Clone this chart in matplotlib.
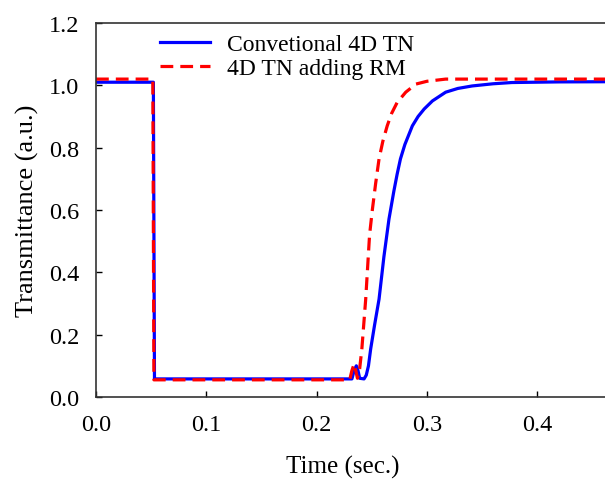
import matplotlib.pyplot as plt

plt.rcParams['font.family'] = ['Liberation Serif', 'DejaVu Serif']

# 常规 4D TN
t_conv = [0, 0.052, 0.053, 0.232, 0.234, 0.236, 0.2375, 0.239, 0.243, 0.245,
          0.247, 0.249, 0.2525, 0.2566, 0.261, 0.2656, 0.270, 0.273, 0.276, 0.280,
          0.2868, 0.292, 0.2975, 0.305, 0.317, 0.328, 0.341, 0.36, 0.377, 0.42, 0.5]
v_conv = [1.01, 1.01, 0.058, 0.058, 0.085, 0.10, 0.085, 0.06, 0.058, 0.07,
          0.10, 0.154, 0.23, 0.314, 0.45, 0.571, 0.66, 0.715, 0.764, 0.81,
          0.870, 0.90, 0.924, 0.950, 0.978, 0.990, 0.998, 1.005, 1.009, 1.011, 1.012]

# 4D TN 加 RM
t_rm = [0, 0.0515, 0.0525, 0.230, 0.232, 0.234, 0.2355, 0.237, 0.239, 0.241,
        0.2445, 0.248, 0.2505, 0.2535, 0.2566, 0.260, 0.264, 0.268, 0.273, 0.2808,
        0.290, 0.300, 0.317, 0.5]
v_rm = [1.02, 1.02, 0.055, 0.055, 0.085, 0.106, 0.085, 0.06, 0.09, 0.154,
        0.314, 0.52, 0.6, 0.685, 0.764, 0.82, 0.870, 0.910, 0.945, 0.978,
        1.004, 1.013, 1.02, 1.02]

x_ticks = [0.0, 0.1, 0.2, 0.3, 0.4]
y_ticks = [0.0, 0.2, 0.4, 0.6, 0.8, 1.0, 1.2]

fig = plt.figure(figsize=(6.05, 4.81), dpi=100)
ax = fig.add_axes([0.1587, 0.1726, 0.9116, 0.7775])

ax.plot(t_conv, v_conv, color='#0000ff', lw=2.3, label='Convetional 4D TN')
ax.plot(t_rm, v_rm, color='#ff0000', lw=2.3, ls=(0, (4, 2.2)), label='4D TN adding RM')

ax.set_xlim(0, 0.5)
ax.set_ylim(0, 1.2)
ax.set_xticks(x_ticks)
ax.set_yticks(y_ticks)
ax.set_xticklabels(['%.1f' % x for x in x_ticks])
ax.set_yticklabels(['%.1f' % y for y in y_ticks])
ax.tick_params(direction='in', length=4, width=1, labelsize=17.5)
ax.tick_params(axis='x', pad=12)
ax.tick_params(axis='y', pad=12)
for s in ax.spines.values():
    s.set_color('#333333')
    s.set_linewidth(1.2)

# 原图右侧被裁掉，标题按可见部分居中
ax.set_xlabel('Time (sec.)', fontsize=18, labelpad=14)
ax.xaxis.set_label_coords(0.448, -0.155)
ax.set_ylabel('Transmittance (a.u.)', fontsize=19, labelpad=7)

ax.legend(loc='upper left', bbox_to_anchor=(0.078, 1.028), frameon=False, fontsize=17,
          handlelength=2.1, handletextpad=0.72, labelspacing=0.1)

fig.savefig('out.png', dpi=100)
